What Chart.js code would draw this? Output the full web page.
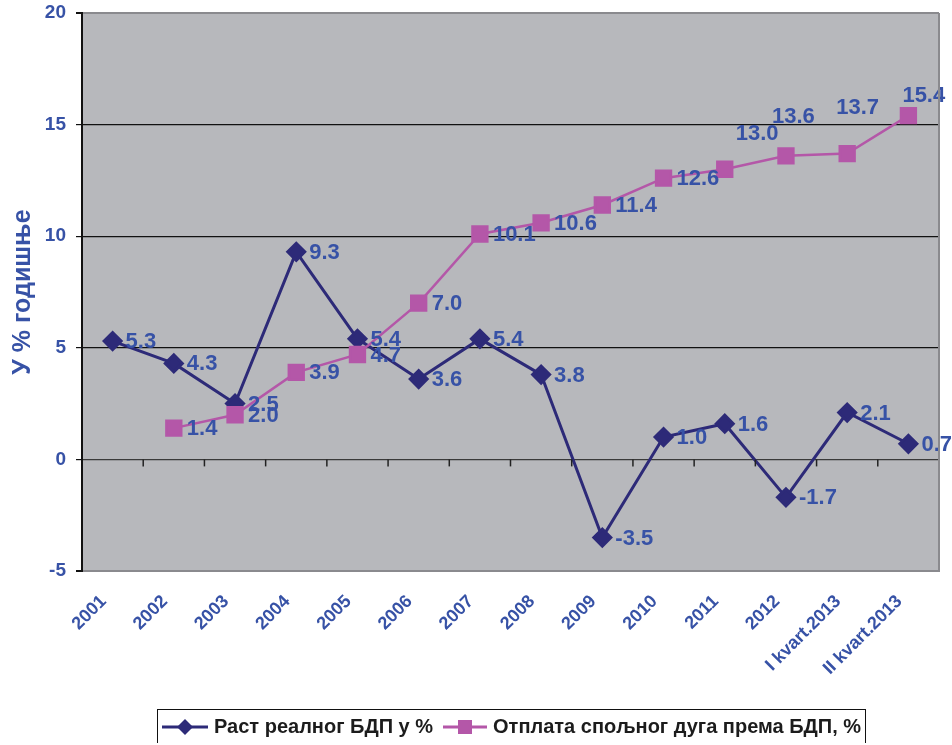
<!DOCTYPE html>
<html>
<head>
<meta charset="utf-8">
<script src="https://cdn.jsdelivr.net/npm/chart.js@4.4.0/dist/chart.umd.min.js"></script>
<style>
  html, body { margin: 0; padding: 0; background: #fff; }
  #wrap { position: relative; width: 952px; height: 745px; }
  #legend {
    position: absolute; left: 157px; top: 709px; width: 707px; height: 33px;
    border: 1px solid #111; border-bottom: none; display: flex; align-items: center;
    font: bold 20px "Liberation Sans", Arial, sans-serif; color: #1c1c1c;
  }
  #legend .item { display: flex; align-items: center; }
  #legend svg { margin-right: 6px; }
</style>
</head>
<body>
<div id="wrap">
  <canvas id="lineChart" width="952" height="745"></canvas>
  <div id="legend">
    <div class="item" style="margin-left:4px">
      <svg width="46" height="20"><line x1="0" y1="10" x2="46" y2="10" stroke="#2d2a78" stroke-width="3"/><polygon points="23,2 31,10 23,18 15,10" fill="#2d2a78"/></svg>
      <span>Раст реалног БДП у %</span>
    </div>
    <div class="item" style="margin-left:10px">
      <svg width="44" height="20"><line x1="0" y1="10" x2="44" y2="10" stroke="#b457a8" stroke-width="3"/><rect x="15" y="3" width="14" height="14" fill="#b457a8"/></svg>
      <span>Отплата спољног дуга према БДП, %</span>
    </div>
  </div>
</div>
<script>
  const categories = ['2001', '2002', '2003', '2004', '2005', '2006', '2007', '2008', '2009',
    '2010', '2011', '2012', 'I kvart.2013', 'II kvart.2013'];
  // real GDP growth, %
  const gdpGrowth = [5.3, 4.3, 2.5, 9.3, 5.4, 3.6, 5.4, 3.8, -3.5, 1.0, 1.6, -1.7, 2.1, 0.7];
  // external debt repayment to GDP, %
  const debtRepayment = [null, 1.4, 2.0, 3.9, 4.7, 7.0, 10.1, 10.6, 11.4, 12.6, 13.0, 13.6, 13.7, 15.4];
  const yTicks = [-5, 0, 5, 10, 15, 20];

  const blueText = '#3752a6';
  const font = '"Liberation Sans", Arial, sans-serif';

  // label offsets (dx to left edge, dy to middle) where the original moved them
  const labelShift = { 1: { 10: [11, -35], 11: [-14, -39], 12: [-11, -46], 13: [-6, -20] } };

  const plotBackground = {
    id: 'plotBackground',
    beforeDraw(chart) {
      const { ctx, chartArea: a } = chart;
      ctx.save();
      ctx.fillStyle = '#b7b8bc';
      ctx.fillRect(a.left, a.top, a.right - a.left, a.bottom - a.top);
      ctx.restore();
    },
    afterDraw(chart) {
      const { ctx, chartArea: a, scales } = chart;
      ctx.save();
      // right border
      ctx.strokeStyle = '#8a8a8e';
      ctx.lineWidth = 2;
      ctx.beginPath();
      ctx.moveTo(a.right, a.top);
      ctx.lineTo(a.right, a.bottom);
      ctx.stroke();
      // small ticks on the zero line
      const y0 = scales.y.getPixelForValue(0);
      ctx.strokeStyle = '#222';
      ctx.lineWidth = 1.5;
      for (let i = 0; i < categories.length - 1; i++) {
        const x = (scales.x.getPixelForValue(i) + scales.x.getPixelForValue(i + 1)) / 2;
        ctx.beginPath();
        ctx.moveTo(x, y0);
        ctx.lineTo(x, y0 + 7);
        ctx.stroke();
      }
      ctx.restore();
    }
  };

  const valueLabels = {
    id: 'valueLabels',
    afterDatasetsDraw(chart) {
      const ctx = chart.ctx;
      ctx.save();
      ctx.font = 'bold 22px ' + font;
      ctx.fillStyle = blueText;
      ctx.textAlign = 'left';
      ctx.textBaseline = 'middle';
      [0, 1].forEach(di => {
        const meta = chart.getDatasetMeta(di);
        const data = chart.data.datasets[di].data;
        meta.data.forEach((pt, i) => {
          if (data[i] === null) return;
          const shift = (labelShift[di] && labelShift[di][i]) || [13, 1];
          ctx.fillText(data[i].toFixed(1), pt.x + shift[0], pt.y + shift[1]);
        });
      });
      ctx.restore();
    }
  };

  const ctx = document.getElementById('lineChart').getContext('2d');
  const lineChart = new Chart(ctx, {
    type: 'line',
    data: {
      labels: categories,
      datasets: [{
        label: 'Раст реалног БДП у %',
        data: gdpGrowth,
        borderColor: '#2d2a78',
        backgroundColor: '#2d2a78',
        borderWidth: 3,
        pointStyle: 'rectRot',
        pointRadius: 8.5,
        pointHoverRadius: 8.5,
        tension: 0,
        order: 1
      }, {
        label: 'Отплата спољног дуга према БДП, %',
        data: debtRepayment,
        borderColor: '#b457a8',
        backgroundColor: '#b457a8',
        borderWidth: 2.5,
        pointStyle: 'rect',
        pointRadius: 10.5,
        pointHoverRadius: 10.5,
        tension: 0,
        order: 0
      }]
    },
    options: {
      responsive: false,
      animation: false,
      layout: { padding: { top: 11, right: 12, left: 0, bottom: 0 } },
      plugins: {
        legend: { display: false },
        tooltip: { enabled: false }
      },
      scales: {
        x: {
          offset: true,
          grid: { display: false, drawTicks: false },
          border: { display: true, color: '#8a8a8e', width: 2 },
          ticks: {
            color: blueText,
            font: { family: font, size: 18, weight: 'bold' },
            maxRotation: 45,
            minRotation: 45,
            padding: 20,
            labelOffset: -9,
            autoSkip: false
          },
          afterFit(scale) {
            scale.height = 174;
            scale.paddingLeft = 0;
            scale.paddingRight = 0;
          }
        },
        y: {
          min: -5,
          max: 20,
          afterBuildTicks(scale) { scale.ticks = yTicks.map(v => ({ value: v })); },
          grid: {
            color: c => (c.tick.value === 20 || c.tick.value === -5) ? '#8a8a8e' : (c.tick.value === 0 ? '#3a3a3a' : '#111'),
            lineWidth: c => (c.tick.value === 20 || c.tick.value === -5) ? 2 : 1.2,
            tickLength: 6,
            tickColor: '#111'
          },
          border: { display: true, color: '#111', width: 2 },
          ticks: {
            color: blueText,
            font: { family: font, size: 19, weight: 'bold' },
            padding: 10
          },
          title: {
            display: true,
            text: 'У % годишње',
            color: blueText,
            font: { family: font, size: 25, weight: 'bold' },
            padding: { top: 8, bottom: 0 }
          },
          afterFit(scale) {
            scale.width = 82;
            scale.paddingTop = 0;
            scale.paddingBottom = 0;
          }
        }
      }
    },
    plugins: [plotBackground, valueLabels]
  });
</script>
</body>
</html>
